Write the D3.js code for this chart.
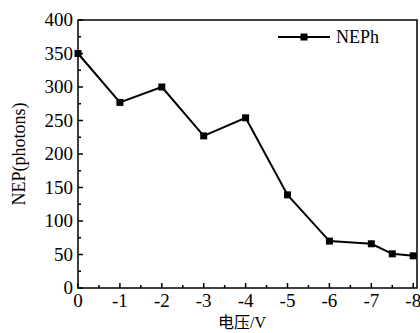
<!DOCTYPE html>
<html>
<head>
<meta charset="utf-8">
<script src="https://cdn.jsdelivr.net/npm/d3@7"></script>
<style>
  body { margin: 0; background: #fff; }
  svg text { font-family: "Liberation Serif", serif; fill: #000; }
  svg text .cjk { font-family: "Noto Sans CJK SC", sans-serif; }
</style>
</head>
<body>
<div id="chart"></div>
<script>
var voltage = [0, -1, -2, -3, -4, -5, -6, -7, -7.5, -8];
var neph = [350, 277, 300, 227, 254, 139, 70, 66, 51, 48];
var xTicks = [0, -1, -2, -3, -4, -5, -6, -7, -8];
var yTicks = [0, 50, 100, 150, 200, 250, 300, 350, 400];
var seriesName = "NEPh";

var width = 420,
    height = 333;
var margin = { left: 78, top: 20, right: 3, bottom: 45 };
var innerW = width - margin.left - margin.right,
    innerH = height - margin.top - margin.bottom;

var svg = d3.select("#chart").append("svg")
    .attr("width", width)
    .attr("height", height);

var g = svg.append("g")
    .attr("transform", "translate(" + margin.left + "," + margin.top + ")");

var x = d3.scaleLinear().domain([0, -8.09]).range([0, innerW]);
var y = d3.scaleLinear().domain([0, 400]).range([innerH, 0]);

// frame
g.append("rect")
    .attr("width", innerW)
    .attr("height", innerH)
    .attr("fill", "none")
    .attr("stroke", "#000")
    .attr("stroke-width", 1.5);

// ticks point inward, minor every half step
var xMinor = d3.range(0, -8.01, -0.5);
var yMinor = d3.range(0, 401, 25);

g.selectAll(".xminor").data(xMinor).enter().append("line")
    .attr("x1", function (d) { return x(d); })
    .attr("x2", function (d) { return x(d); })
    .attr("y1", innerH)
    .attr("y2", function (d) { return innerH - (Number.isInteger(d) ? 5 : 3); })
    .attr("stroke", "#000").attr("stroke-width", 1.5);

g.selectAll(".yminor").data(yMinor).enter().append("line")
    .attr("y1", function (d) { return y(d); })
    .attr("y2", function (d) { return y(d); })
    .attr("x1", 0)
    .attr("x2", function (d) { return d % 50 === 0 ? 5 : 3; })
    .attr("stroke", "#000").attr("stroke-width", 1.5);

// tick labels
g.selectAll(".ylab").data(yTicks).enter().append("text")
    .attr("x", -5)
    .attr("y", function (d) { return y(d) + 6; })
    .attr("text-anchor", "end")
    .style("font-size", "19px")
    .text(function (d) { return d; });

g.selectAll(".xlab").data(xTicks).enter().append("text")
    .attr("x", function (d) { return x(d); })
    .attr("y", innerH + 19)
    .attr("text-anchor", "middle")
    .style("font-size", "19px")
    .text(function (d) { return d; });

// axis titles
svg.append("text")
    .attr("transform", "translate(25," + 154 + ") rotate(-90)")
    .attr("text-anchor", "middle")
    .style("font-size", "18px")
    .text("NEP(photons)");

var xt = svg.append("text")
    .attr("x", 242)
    .attr("y", 328)
    .attr("text-anchor", "middle")
    .style("font-size", "16px");
xt.append("tspan").attr("class", "cjk").text("电压");
xt.append("tspan").text("/V");

// line + markers
var data = voltage.map(function (v, i) { return { v: v, n: neph[i] }; });

var line = d3.line()
    .x(function (d) { return x(d.v); })
    .y(function (d) { return y(d.n); });

g.append("path")
    .datum(data)
    .attr("d", line)
    .attr("fill", "none")
    .attr("stroke", "#000")
    .attr("stroke-width", 2);

g.selectAll(".pt").data(data).enter().append("rect")
    .attr("x", function (d) { return x(d.v) - 3.5; })
    .attr("y", function (d) { return y(d.n) - 3.5; })
    .attr("width", 7)
    .attr("height", 7)
    .attr("fill", "#000");

// legend
var lg = svg.append("g").attr("transform", "translate(278,37)");
lg.append("line").attr("x1", 0).attr("x2", 52).attr("y1", 0).attr("y2", 0)
    .attr("stroke", "#000").attr("stroke-width", 2);
lg.append("rect").attr("x", 26 - 3.5).attr("y", -3.5).attr("width", 7).attr("height", 7).attr("fill", "#000");
lg.append("text").attr("x", 58).attr("y", 6)
    .style("font-size", "18px")
    .text(seriesName);
</script>
</body>
</html>
